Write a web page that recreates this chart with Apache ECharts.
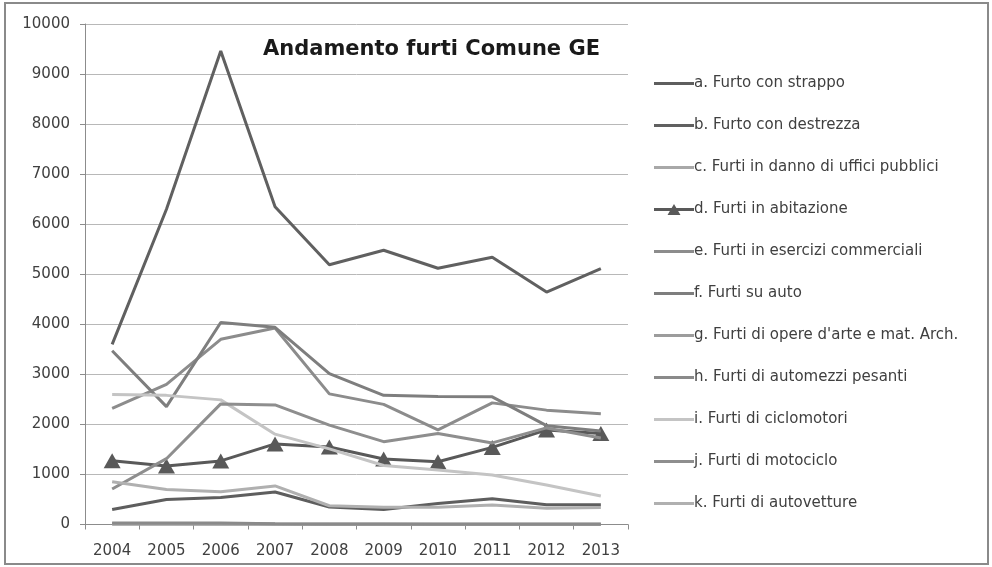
<!DOCTYPE html>
<html>
<head>
<meta charset="utf-8">
<script src="https://cdn.jsdelivr.net/npm/echarts@6/dist/echarts.min.js"></script>
<style>html,body{margin:0;padding:0;background:#fff}#c{width:992px;height:567px}</style>
</head>
<body>
<div id="c"></div>
<script>
const years = ['2004','2005','2006','2007','2008','2009','2010','2011','2012','2013'];
const titleText = 'Andamento furti Comune GE';
const names = [
  'a. Furto con strappo',
  'b. Furto con destrezza',
  'c. Furti in danno di uffici pubblici',
  'd. Furti in abitazione',
  'e. Furti in esercizi commerciali',
  'f. Furti su auto',
  "g. Furti di opere d'arte e mat. Arch.",
  'h. Furti di automezzi pesanti',
  'i. Furti di ciclomotori',
  'j. Furti di motociclo',
  'k. Furti di autovetture'
];
const aStrappo     = [300, 500, 540, 650, 350, 300, 420, 515, 395, 395];
const bDestrezza   = [3600, 6300, 9460, 6350, 5190, 5480, 5120, 5340, 4645, 5110];
const cUffici      = [20, 18, 15, 8, 6, 5, 5, 5, 5, 5];
const dAbitazione  = [1275, 1170, 1270, 1610, 1550, 1310, 1255, 1540, 1890, 1820];
const eCommerciali = [2320, 2800, 3700, 3925, 2610, 2400, 1890, 2430, 2285, 2215];
const fSuAuto      = [3470, 2355, 4035, 3940, 3015, 2580, 2555, 2550, 1975, 1870];
const gOpereArte   = [5, 5, 5, 3, 3, 3, 2, 2, 2, 2];
const hAutomezzi   = [30, 30, 28, 15, 12, 10, 10, 10, 8, 8];
const iCiclomotori = [2595, 2580, 2490, 1805, 1510, 1180, 1090, 990, 790, 570];
const jMotociclo   = [710, 1315, 2410, 2390, 1985, 1655, 1820, 1630, 1930, 1730];
const kAutovetture = [855, 700, 655, 770, 375, 345, 345, 390, 325, 340];

const seriesData = [aStrappo, bDestrezza, cUffici, dAbitazione, eCommerciali, fSuAuto, gOpereArte, hAutomezzi, iCiclomotori, jMotociclo, kAutovetture];
const colors = ['#5e5e5e','#606060','#a8a8a8','#595959','#8c8c8c','#7e7e7e','#9c9c9c','#8a8a8a','#c4c4c4','#8e8e8e','#b0b0b0'];

const font = '"DejaVu Sans", sans-serif';
const lineIcon = 'path://M0,0L0.001,0L0,0.001Z M40,14L39.999,14L40,13.999Z M0,5.5H40V8.5H0Z';
const triIcon = 'path://M0,0L0.001,0L0,0.001Z M40,14L39.999,14L40,13.999Z M0,5.5H40V8.5H0Z M20,1.5L26.5,12.5H13.5Z';

const chart = echarts.init(document.getElementById('c'));
chart.setOption({
  animation: false,
  backgroundColor: '#fff',
  color: colors,
  title: {
    text: titleText,
    left: 258, top: 34,
    textStyle: { fontFamily: font, fontSize: 21, fontWeight: 'bold', color: '#1a1a1a' }
  },
  legend: {
    orient: 'vertical',
    left: 649, top: 71,
    itemWidth: 40, itemHeight: 14,
    itemGap: 27,
    textStyle: { fontFamily: font, fontSize: 15, color: '#404040', padding: [0,0,0,-5] },
    data: names.map((n, idx) => ({ name: n, icon: idx === 3 ? triIcon : lineIcon }))
  },
  graphic: [{
    type: 'rect', shape: { x: 5, y: 3, width: 983, height: 561 },
    style: { fill: 'none', stroke: '#8a8a8a', lineWidth: 2 }, silent: true
  }],
  grid: { left: 85, right: 364, top: 24, bottom: 42.5 },
  xAxis: {
    type: 'category', data: years, boundaryGap: true,
    axisLine: { lineStyle: { color: '#8c8c8c', width: 1 } },
    axisTick: { show: true, length: 5, lineStyle: { color: '#8c8c8c' } },
    axisLabel: { fontFamily: font, fontSize: 15, color: '#404040', margin: 19 }
  },
  yAxis: {
    type: 'value', min: 0, max: 10000, interval: 1000,
    axisLine: { show: true, lineStyle: { color: '#8c8c8c', width: 1 } },
    axisTick: { show: true, length: 5, lineStyle: { color: '#8c8c8c' } },
    splitLine: { lineStyle: { color: '#b8b8b8', width: 1 } },
    axisLabel: { fontFamily: font, fontSize: 15, color: '#404040', margin: 15, formatter: v => String(v) }
  },
  series: names.map((n, idx) => ({
    name: n,
    type: 'line',
    data: seriesData[idx],
    symbol: idx === 3 ? 'triangle' : 'none',
    symbolSize: idx === 3 ? [17, 15] : 0,
    showSymbol: idx === 3,
    lineStyle: { width: 3, color: colors[idx] },
    itemStyle: { color: colors[idx] },
    z: 2 + idx
  }))
});
</script>
</body>
</html>
